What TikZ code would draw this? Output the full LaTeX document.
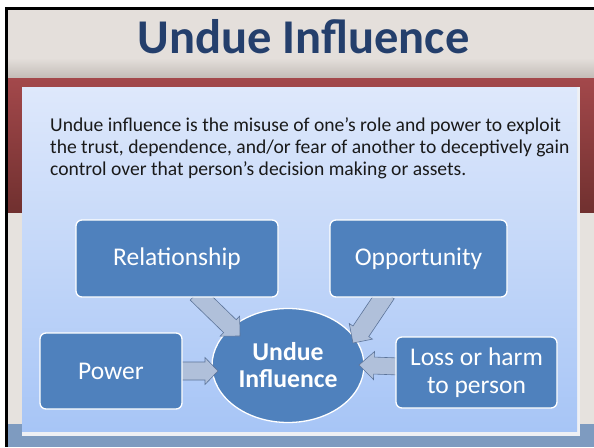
\documentclass[tikz,border=0pt]{standalone}
\usepackage{fontspec}
\setmainfont{Carlito}
\usetikzlibrary{calc,shapes.geometric}
\pgfdeclarelayer{bg}
\pgfdeclarelayer{mid}
\pgfsetlayers{bg,mid,main}
\definecolor{titleblue}{HTML}{243F6C}
\definecolor{titlebg}{HTML}{E4DFDB}
\definecolor{titlebot}{HTML}{C3BCB7}
\definecolor{redtop}{HTML}{A3484B}
\definecolor{redbot}{HTML}{70302F}
\definecolor{lowbg}{HTML}{E6E2DE}
\definecolor{stripblue}{HTML}{7E9BC0}
\definecolor{paneltop}{HTML}{DEE8FB}
\definecolor{panelbot}{HTML}{A7C5F6}
\definecolor{panelrim}{HTML}{EEF0F4}
\definecolor{boxblue}{HTML}{4F81BD}
\definecolor{arrowfill}{HTML}{B0C0DA}
\definecolor{arrowline}{HTML}{5C7499}
\definecolor{bodytext}{HTML}{1A1A1A}
\tikzset{
  box/.style={draw=white, line width=1.3pt, fill=boxblue, rounded corners=6pt,
    text=white, font=\fontsize{25.5}{28.5}\selectfont, align=center, inner sep=0pt},
  centreoval/.style={draw=white, line width=1.3pt, fill=boxblue, ellipse, inner sep=0pt,
    text=white, font=\bfseries\fontsize{25.7}{27}\selectfont, align=center},
  barrow/.style={fill=arrowfill, draw=arrowline, line width=0.6pt, line join=miter},
  bodyline/.style={anchor=base west, inner sep=0pt, text=bodytext, font=\fontsize{19.6}{22}\selectfont}
}
% #1 start, #2 tip, #3 shaft width, #4 head width, #5 head length
\newcommand\blockarrow[5]{%
  \path[barrow] let \p1=(#1), \p2=(#2),
    \n1={atan2(\y2-\y1,\x2-\x1)}, \n2={veclen(\x2-\x1,\y2-\y1)-#5} in
    ($(\p1)+(\n1+90:#3pt/2)$) --
    ($(\p1)+(\n1+90:#3pt/2)+(\n1:\n2)$) --
    ($(\p1)+(\n1+90:#4pt/2)+(\n1:\n2)$) --
    (\p2) --
    ($(\p1)+(\n1-90:#4pt/2)+(\n1:\n2)$) --
    ($(\p1)+(\n1-90:#3pt/2)+(\n1:\n2)$) --
    ($(\p1)+(\n1-90:#3pt/2)$) -- cycle;
}
\begin{document}
\begin{tikzpicture}[x=1pt,y=-1pt]
\useasboundingbox (0,0) rectangle (594,447);
\begin{pgfonlayer}{bg}
\fill[white] (0,0) rectangle (594,447);
% slide background bands
\fill[titlebg] (7,9) rectangle (594,58);
\shade[top color=titlebg, bottom color=titlebot] (7,58) rectangle (594,78);
\shade[top color=redtop, bottom color=redbot] (7,78) rectangle (594,213);
\fill[lowbg] (7,213) rectangle (594,424);
\fill[stripblue] (7,424) rectangle (594,447);
\fill[black] (5,7) rectangle (7.5,447);
\fill[black] (5,7) rectangle (594,9.5);
% panel
\fill[panelrim] (22,87) rectangle (580,436);
\shade[top color=paneltop, bottom color=panelbot] (22,87) rectangle (577,431);
% centre
\node[centreoval, minimum width=152pt, minimum height=114pt] (ui) at (288,365.5) {Undue\\Influence};
\end{pgfonlayer}
% title
\node[anchor=base, inner sep=0pt, text=titleblue, font=\bfseries\fontsize{48.5}{56}\selectfont] (title) at (303.5,53) {Undue Influence};
% description
\node[bodyline] (desc1) at (50,131) {Undue influence is the misuse of one’s role and power to exploit};
\node[bodyline] (desc2) at (50,153) {the trust, dependence, and/or fear of another to deceptively gain};
\node[bodyline] (desc3) at (50,175) {control over that person’s decision making or assets.};
% boxes
\node[box, minimum width=202pt, minimum height=77pt] (rel) at (177,258.5) {Relationship};
\node[box, minimum width=177pt, minimum height=77pt] (opp) at (418.5,258.5) {Opportunity};
\node[box, minimum width=142pt, minimum height=76pt] (pow) at (111,371) {Power};
\node[box, minimum width=161pt, minimum height=71pt] (loss) at (476.5,372.5) {Loss or harm\\to person};
% connectors
\coordinate (relstart) at ($(rel.south)+(19.5,-4)$);
\coordinate (reltip) at ($(ui.center)+(-48,-29.5)$);
\coordinate (powstart) at ($(pow.east)+(-4,0)$);
\coordinate (powtip) at ($(ui.center)+(-70,5.5)$);
\coordinate (oppstart) at ($(opp.south)+(-32.2,-4.2)$);
\coordinate (opptip) at ($(ui.center)+(65,-22.5)$);
\coordinate (lossstart) at ($(loss.west)+(4,-6)$);
\coordinate (losstip) at ($(ui.center)+(71,-0.5)$);
\begin{pgfonlayer}{mid}
\blockarrow{relstart}{reltip}{18}{28}{14}
\blockarrow{powstart}{powtip}{18}{27}{13}
\blockarrow{oppstart}{opptip}{19}{28}{14}
\blockarrow{lossstart}{losstip}{17}{28}{15}
\end{pgfonlayer}
\end{tikzpicture}
\end{document}
